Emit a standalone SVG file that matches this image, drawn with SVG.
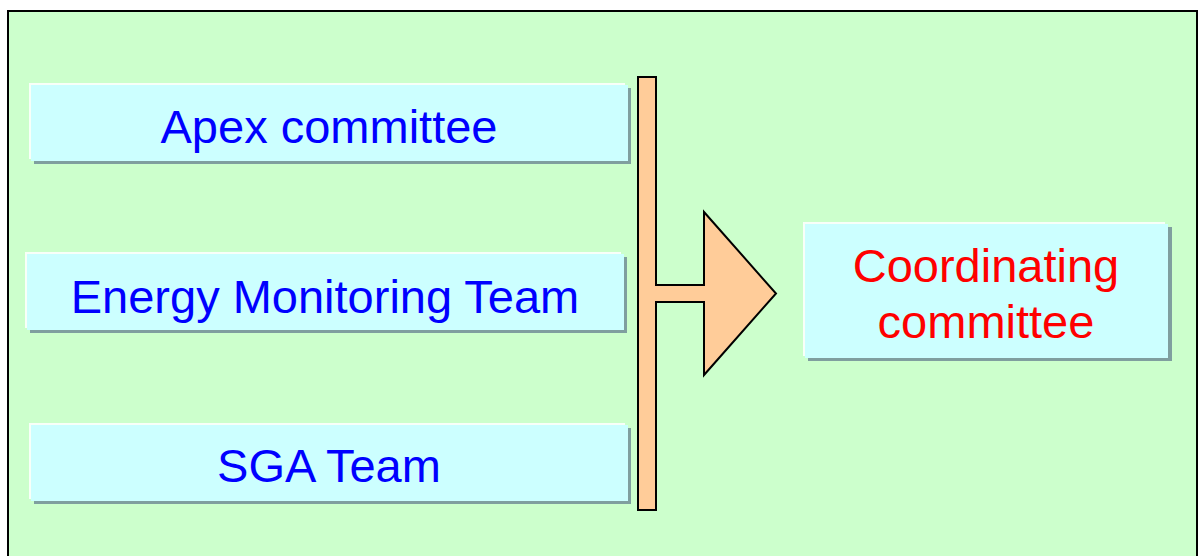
<svg xmlns="http://www.w3.org/2000/svg" width="1198" height="556" viewBox="0 0 1198 556">
<style>
.bg{fill:#CCFFCC;stroke:#000;stroke-width:2}
.sh{fill:#7F9F9F}
.hl{fill:#FFFFFF;fill-opacity:0.85}
.bx{fill:#CCFFFF}
.t{font-family:"Liberation Sans",Arial,sans-serif;font-size:47px;text-anchor:middle}
.blue{fill:#0000FF}
.red{fill:#FF0000}
.arrow{fill:#FFCC99;stroke:#000;stroke-width:2;stroke-linejoin:miter}
</style>
<rect x="0" y="0" width="1198" height="556" fill="#FFFFFF"/>
<rect class="bg" x="8" y="11" width="1189" height="560"/>
<g id="apex">
<rect class="sh" x="34" y="88" width="597" height="76"/>
<rect class="hl" x="29" y="83" width="596" height="76"/>
<rect class="bx" x="31" y="85" width="597" height="76"/>
<text class="t blue" x="329" y="143">Apex committee</text>
</g>
<g id="energy">
<rect class="sh" x="30" y="257" width="597" height="76"/>
<rect class="hl" x="25" y="252" width="596" height="76"/>
<rect class="bx" x="27" y="254" width="597" height="76"/>
<text class="t blue" x="325" y="313">Energy Monitoring Team</text>
</g>
<g id="sga">
<rect class="sh" x="34" y="428" width="597" height="76"/>
<rect class="hl" x="29" y="423" width="596" height="76"/>
<rect class="bx" x="31" y="425" width="597" height="76"/>
<text class="t blue" x="329" y="482">SGA Team</text>
</g>
<g id="coordinating">
<rect class="sh" x="808" y="227" width="364" height="134"/>
<rect class="hl" x="803" y="222" width="362" height="134"/>
<rect class="bx" x="805" y="224" width="363" height="134"/>
<text class="t red" x="986" y="282">Coordinating</text>
<text class="t red" x="986" y="338">committee</text>
</g>
<g id="connectors">
<polygon class="arrow" points="638,77 656,77 656,285 704,285 704,212 776,293.5 704,375 704,302 656,302 656,510 638,510"/>
</g>
</svg>
